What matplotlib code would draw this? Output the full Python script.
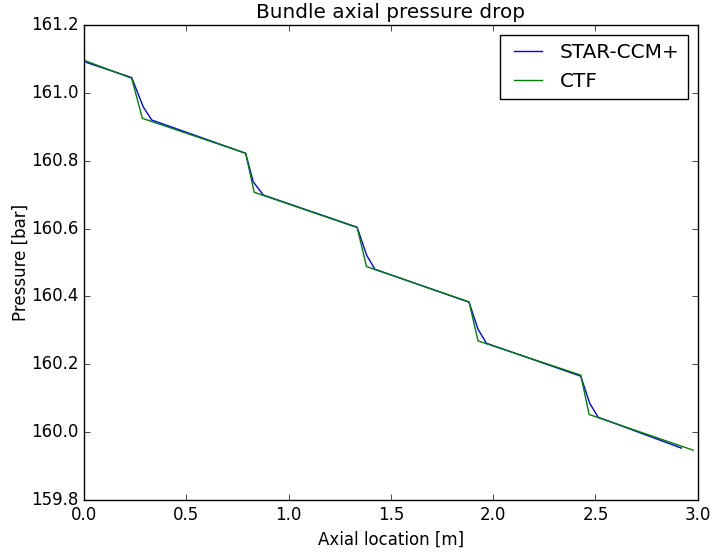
import matplotlib
matplotlib.use("Agg")
import matplotlib.pyplot as plt
from matplotlib.ticker import FormatStrFormatter

# axial location [m] and pressure [bar]
star_x = [0.01, 0.233, 0.29, 0.331, 0.790, 0.827, 0.876, 1.335, 1.381, 1.422,
          1.882, 1.926, 1.967, 2.428, 2.472, 2.513, 2.92]
star_p = [161.090, 161.045, 160.958, 160.920, 160.822, 160.738, 160.699,
          160.604, 160.522, 160.480, 160.383, 160.303, 160.262, 160.165,
          160.085, 160.044, 159.953]

ctf_x = [0.0, 0.233, 0.285, 0.790, 0.832, 1.335, 1.381, 1.882, 1.926,
         2.428, 2.469, 2.977]
ctf_p = [161.096, 161.043, 160.925, 160.822, 160.707, 160.603, 160.488,
         160.384, 160.269, 160.168, 160.052, 159.947]

plt.style.use("classic")
plt.rcParams["figure.facecolor"] = "white"
plt.rcParams["savefig.facecolor"] = "white"

fig = plt.figure(figsize=(7.12, 5.52), dpi=100)
ax = fig.add_axes([0.118, 0.0942, 0.862, 0.8605])

ax.plot(star_x, star_p, color="b", linewidth=1.0, label="STAR-CCM+")
ax.plot(ctf_x, ctf_p, color="g", linewidth=1.0, label="CTF")

ax.set_xlim(0.0, 3.0)
ax.set_ylim(159.8, 161.2)
ax.xaxis.set_major_formatter(FormatStrFormatter("%.1f"))
ax.yaxis.set_major_formatter(FormatStrFormatter("%.1f"))

ax.set_title("Bundle axial pressure drop")
ax.set_xlabel("Axial location [m]")
ax.set_ylabel("Pressure [bar]", labelpad=1)
ax.legend(loc="upper right", handlelength=2.0, handletextpad=0.6)

fig.savefig("out.png", dpi=100)
